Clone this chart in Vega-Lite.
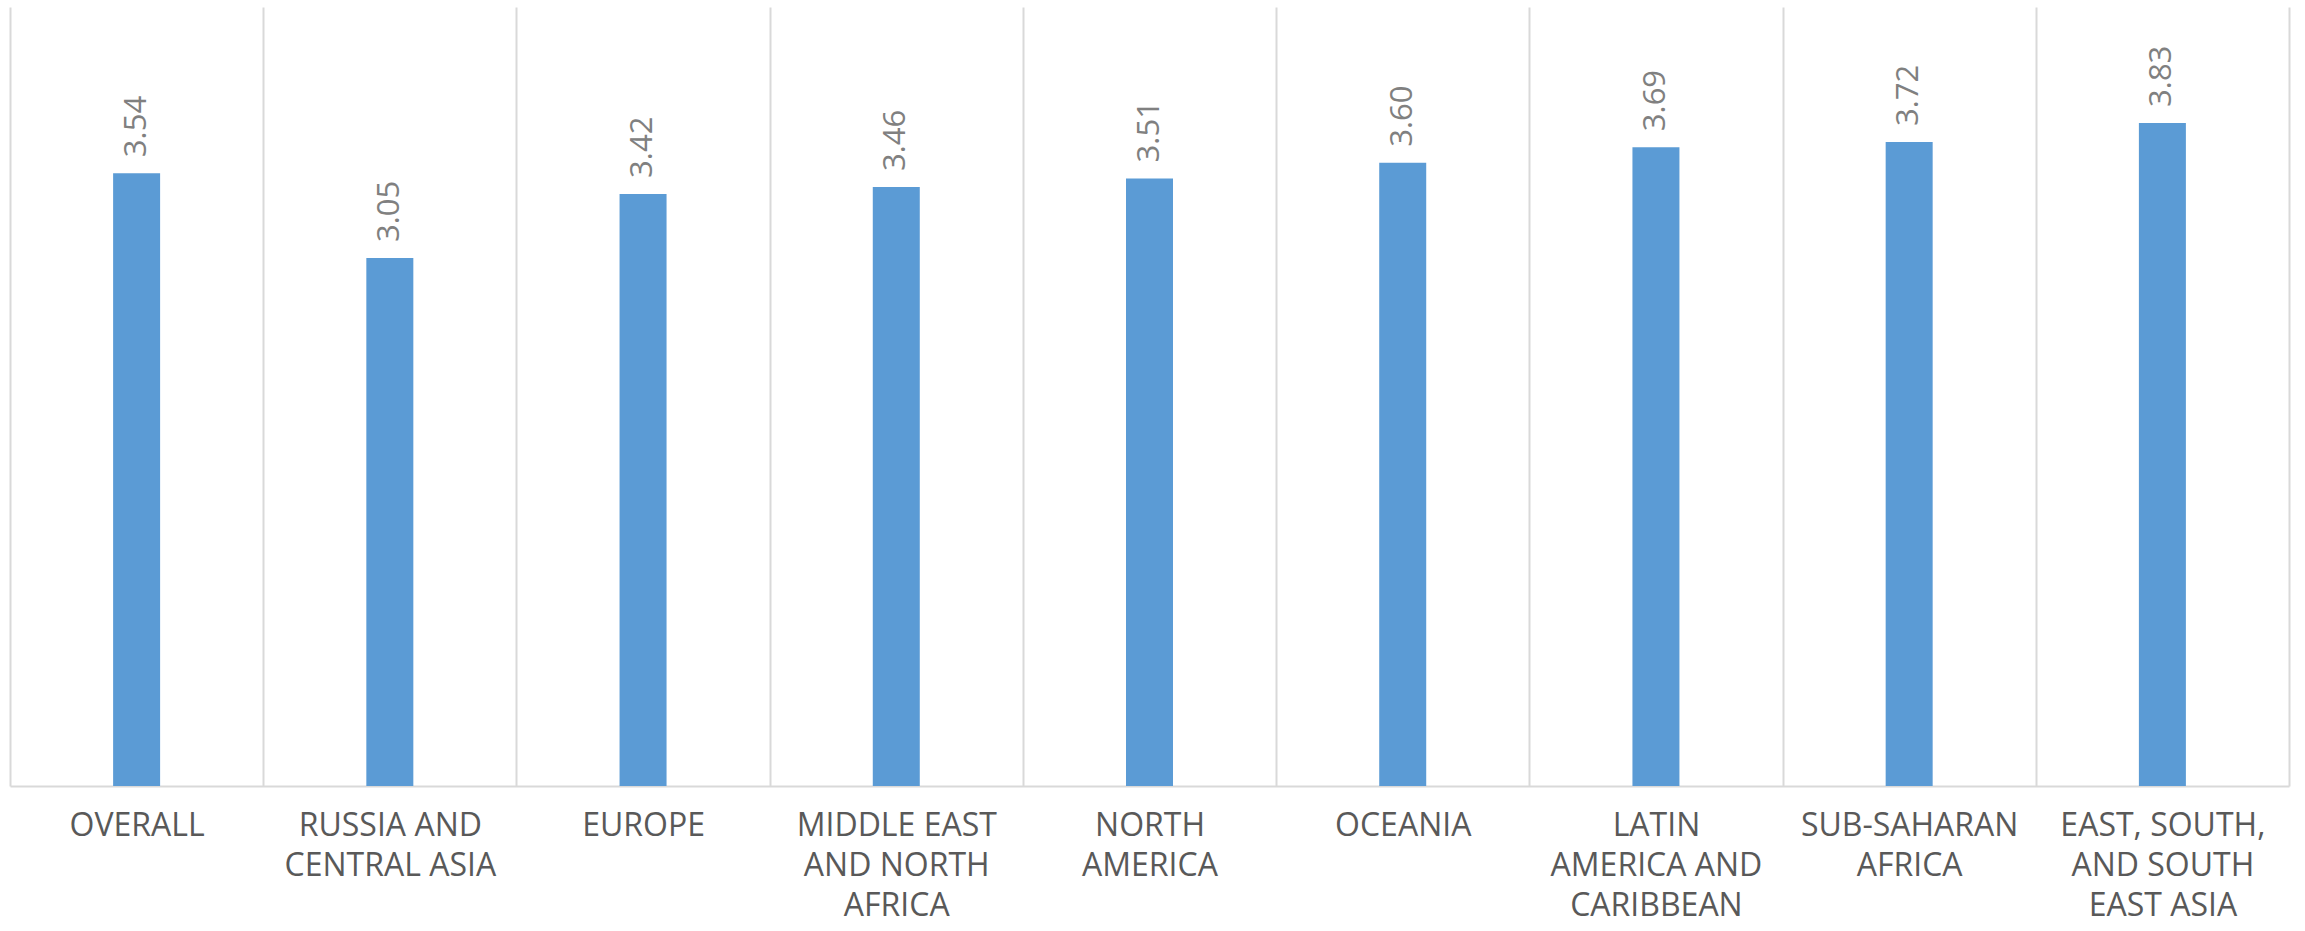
{
  "$schema": "https://vega.github.io/schema/vega-lite/v6.json",
  "width": 2279,
  "height": 779,
  "padding": {"left": 10, "top": 7, "right": 16, "bottom": 0},
  "autosize": {"type": "pad"},
  "background": "white",
  "config": {"view": {"stroke": null}, "font": "Open Sans"},
  "data": {
    "values": [
      {"region": "OVERALL", "value": 3.54},
      {"region": "RUSSIA AND|CENTRAL ASIA", "value": 3.05},
      {"region": "EUROPE", "value": 3.42},
      {"region": "MIDDLE EAST|AND NORTH|AFRICA", "value": 3.46},
      {"region": "NORTH|AMERICA", "value": 3.51},
      {"region": "OCEANIA", "value": 3.60},
      {"region": "LATIN|AMERICA AND|CARIBBEAN", "value": 3.69},
      {"region": "SUB-SAHARAN|AFRICA", "value": 3.72},
      {"region": "EAST, SOUTH,|AND SOUTH|EAST ASIA", "value": 3.83}
    ]
  },
  "encoding": {
    "x": {
      "field": "region",
      "type": "nominal",
      "sort": null,
      "scale": {"paddingInner": 0, "paddingOuter": 0},
      "axis": {
        "title": null,
        "labelAngle": 0,
        "labelExpr": "split(datum.label, '|')",
        "labelFont": "Open Sans",
        "labelFontSize": 32,
        "labelColor": "#595959",
        "labelLineHeight": 40,
        "labelPadding": 24,
        "labelBaseline": "top",
        "labelLimit": 1000,
        "labelOverlap": false,
        "ticks": false,
        "tickBand": "extent",
        "grid": true,
        "gridColor": "#d9d9d9",
        "gridWidth": 2,
        "domainColor": "#d9d9d9",
        "domainWidth": 2
      }
    },
    "y": {
      "field": "value",
      "type": "quantitative",
      "scale": {"domain": [0, 4.5], "nice": false},
      "axis": null
    }
  },
  "layer": [
    {"mark": {"type": "bar", "size": 47, "color": "#5b9bd5"}},
    {
      "mark": {
        "type": "text",
        "angle": -90,
        "align": "left",
        "baseline": "middle",
        "dx": 16,
        "font": "Open Sans",
        "fontSize": 31,
        "color": "#808080"
      },
      "encoding": {"text": {"field": "value", "type": "quantitative", "format": ".2f"}}
    }
  ]
}
